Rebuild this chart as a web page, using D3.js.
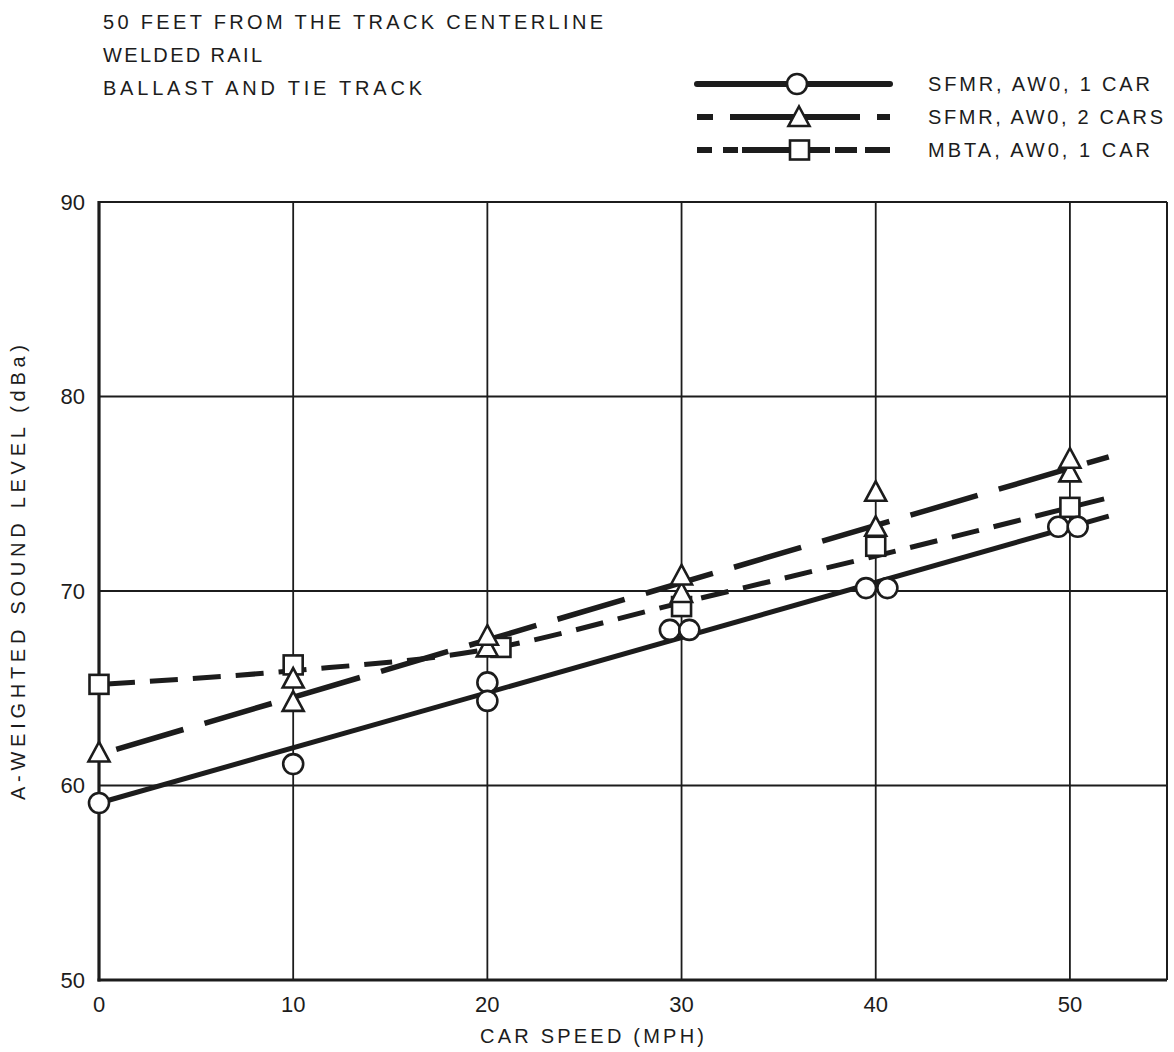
<!DOCTYPE html>
<html><head><meta charset="utf-8">
<script src="https://cdn.jsdelivr.net/npm/d3@7"></script>
<style>
body{margin:0;background:#fff}
svg{display:block}
text{font-family:"Liberation Sans",Arial,Helvetica,sans-serif;fill:#1c1c1c}
</style>
</head><body>
<svg id="chart" width="1174" height="1052"></svg>
<script>
// ---------- data ----------
const titleLines = ["50 FEET FROM THE TRACK CENTERLINE", "WELDED RAIL", "BALLAST AND TIE TRACK"];
const seriesNames = ["SFMR, AW0, 1 CAR", "SFMR, AW0, 2 CARS", "MBTA, AW0, 1 CAR"];
const xTicks = [0, 10, 20, 30, 40, 50];
const yTicks = [50, 60, 70, 80, 90];
const xTitle = "CAR SPEED (MPH)";
const yTitle = "A-WEIGHTED SOUND LEVEL (dBa)";

// measured points (speed mph, dBa)
const circlePoints = [[0,59.1],[10,61.1],[20,65.3],[20,64.35],[29.4,68.0],[30.4,68.0],[39.5,70.15],[40.6,70.15],[49.4,73.3],[50.4,73.3]];
const trianglePoints = [[0,61.7],[10,65.5],[10,64.3],[20,67.7],[20,67.1],[30,70.8],[30,69.9],[40,75.1],[40,73.3],[50,76.8],[50,76.1]];
const squarePoints = [[0,65.2],[10,66.2],[20.7,67.1],[30,69.2],[40,72.3],[50,74.3]];

// fitted curves
const circleFit = [[0,59.1],[52,73.85]];
const triangleFit = [[0,61.6],[52,76.9]];
const squareFit = [[0,65.2],[10,65.9],[20,67.0],[30,69.4],[40,71.8],[52,74.8]];

// ---------- drawing ----------
const svg = d3.select("#chart");
const ink = "#1c1c1c";
const x = d3.scaleLinear().domain([0, 55]).range([99, 1167]);
const y = d3.scaleLinear().domain([50, 90]).range([980, 202]);

// grid
const g = svg.append("g");
g.selectAll(".vg").data(xTicks.filter(d => d > 0)).join("line")
  .attr("x1", d => x(d)).attr("x2", d => x(d)).attr("y1", y(90)).attr("y2", y(50))
  .attr("stroke", ink).attr("stroke-width", 1.8);
g.selectAll(".hg").data(yTicks.filter(d => d > 50 && d < 90)).join("line")
  .attr("x1", x(0)).attr("x2", x(55)).attr("y1", d => y(d)).attr("y2", d => y(d))
  .attr("stroke", ink).attr("stroke-width", 1.8);
// frame
g.append("line").attr("x1", x(0)).attr("x2", x(55)).attr("y1", y(90)).attr("y2", y(90)).attr("stroke", ink).attr("stroke-width", 2.2);
g.append("line").attr("x1", x(55)).attr("x2", x(55)).attr("y1", y(90)).attr("y2", y(50)).attr("stroke", ink).attr("stroke-width", 2);
g.append("line").attr("x1", x(0)).attr("x2", x(0)).attr("y1", y(90) - 1).attr("y2", y(50) + 1.5).attr("stroke", ink).attr("stroke-width", 3.2);
g.append("line").attr("x1", x(0) - 1.5).attr("x2", x(55)).attr("y1", y(50)).attr("y2", y(50)).attr("stroke", ink).attr("stroke-width", 3.2);

// tick labels
svg.selectAll(".yt").data(yTicks).join("text")
  .attr("x", 85).attr("y", d => y(d)).attr("dy", "0.36em")
  .attr("text-anchor", "end").attr("font-size", 22).text(d => d);
svg.selectAll(".xt").data(xTicks).join("text")
  .attr("x", d => x(d)).attr("y", 1012)
  .attr("text-anchor", "middle").attr("font-size", 22).text(d => d);

// axis titles
svg.append("text").attr("x", 480).attr("y", 1043).attr("font-size", 20)
  .attr("textLength", 224).attr("lengthAdjust", "spacing").text(xTitle);
svg.append("text").attr("transform", "translate(25,800) rotate(-90)")
  .attr("font-size", 20).attr("textLength", 455).attr("lengthAdjust", "spacing").text(yTitle);

// title lines
const titleWidths = [500, 159, 319];
svg.selectAll(".tl").data(titleLines).join("text")
  .attr("x", 103).attr("y", (d, i) => 29 + i * 33)
  .attr("font-size", 20)
  .attr("textLength", (d, i) => titleWidths[i]).attr("lengthAdjust", "spacing")
  .text(d => d);

// fit lines
const line = d3.line().x(d => x(d[0])).y(d => y(d[1]));
svg.append("path").datum(circleFit).attr("d", line)
  .attr("fill", "none").attr("stroke", ink).attr("stroke-width", 5);
svg.append("path").datum(triangleFit).attr("d", line)
  .attr("fill", "none").attr("stroke", ink).attr("stroke-width", 5.5)
  .attr("stroke-dasharray", "70,22").attr("stroke-dashoffset", -18);
svg.append("path").datum(squareFit).attr("d", line.curve(d3.curveMonotoneX))
  .attr("fill", "none").attr("stroke", ink).attr("stroke-width", 5)
  .attr("stroke-dasharray", "28,15").attr("stroke-dashoffset", -8);

// markers
const triPath = "M0,-10.5L10.5,9L-10.5,9Z";
const mk = svg.append("g").attr("fill", "#fff").attr("stroke", ink).attr("stroke-width", 2.6);
mk.selectAll(".sq").data(squarePoints).join("rect")
  .attr("x", d => x(d[0]) - 9.5).attr("y", d => y(d[1]) - 9.5)
  .attr("width", 19).attr("height", 19);
mk.selectAll(".tr").data(trianglePoints.slice().sort((a, b) => a[1] - b[1])).join("path")
  .attr("transform", d => `translate(${x(d[0])},${y(d[1])})`).attr("d", triPath);
mk.selectAll(".ci").data(circlePoints).join("circle")
  .attr("cx", d => x(d[0])).attr("cy", d => y(d[1])).attr("r", 10);

// legend
const legY = [84, 117, 150];
const lg = svg.append("g");
lg.append("line").attr("x1", 697).attr("x2", 890).attr("y1", legY[0]).attr("y2", legY[0])
  .attr("stroke", ink).attr("stroke-width", 6).attr("stroke-linecap", "round");
lg.append("line").attr("x1", 697).attr("x2", 890).attr("y1", legY[1]).attr("y2", legY[1])
  .attr("stroke", ink).attr("stroke-width", 6).attr("stroke-dasharray", "16,17,130,17,13");
lg.append("line").attr("x1", 697).attr("x2", 890).attr("y1", legY[2]).attr("y2", legY[2])
  .attr("stroke", ink).attr("stroke-width", 6).attr("stroke-dasharray", "15,11,15,4,88,5,22,8,25");
lg.append("circle").attr("cx", 797).attr("cy", legY[0]).attr("r", 10)
  .attr("fill", "#fff").attr("stroke", ink).attr("stroke-width", 2.6);
lg.append("path").attr("transform", `translate(799,${legY[1]})`).attr("d", triPath)
  .attr("fill", "#fff").attr("stroke", ink).attr("stroke-width", 2.6);
lg.append("rect").attr("x", 790).attr("y", legY[2] - 9.5).attr("width", 19).attr("height", 19)
  .attr("fill", "#fff").attr("stroke", ink).attr("stroke-width", 2.6);
const legW = [222, 235, 222];
lg.selectAll(".lt").data(seriesNames).join("text")
  .attr("x", 928).attr("y", (d, i) => legY[i] + 7)
  .attr("font-size", 20)
  .attr("textLength", (d, i) => legW[i]).attr("lengthAdjust", "spacing")
  .text(d => d);
</script>
</body></html>
